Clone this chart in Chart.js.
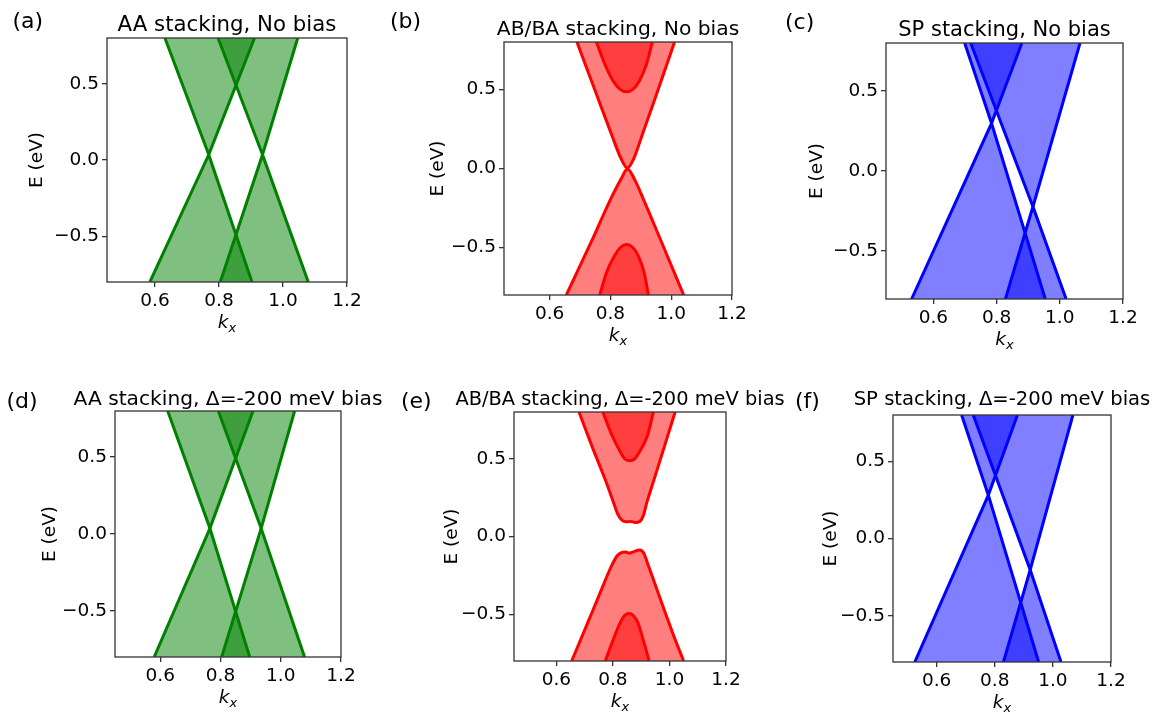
<!DOCTYPE html>
<html><head><meta charset="utf-8">
<script src="https://cdn.jsdelivr.net/npm/chart.js@4.4.0/dist/chart.umd.min.js"></script>
<style>
html,body{margin:0;padding:0;background:#fff;width:1155px;height:717px;overflow:hidden;position:relative}
canvas{position:absolute}
</style></head><body>
<script>
// ---------- tick labels / axis ranges ----------
const X_TICKS = [0.6, 0.8, 1.0, 1.2];
const Y_TICKS = [-0.5, 0.0, 0.5];
const X_RANGE = [0.45, 1.2];
const Y_RANGE = [-0.8, 0.8];
const PANEL_LETTERS = ['(a)', '(b)', '(c)', '(d)', '(e)', '(f)'];
const PANEL_TITLES = ['AA stacking, No bias', 'AB/BA stacking, No bias', 'SP stacking, No bias',
  'AA stacking, Δ=-200 meV bias', 'AB/BA stacking, Δ=-200 meV bias', 'SP stacking, Δ=-200 meV bias'];
const Y_LABEL = 'E (eV)';

// ---------- (a) AA, no bias : band edges [k_x, E] ----------
const aaNoBias_cone1Upper = [[0.631, 0.8], [0.768, 0.035], [0.911, 0.8]];
const aaNoBias_cone1Lower = [[0.584, -0.8], [0.768, 0.035], [0.903, -0.8]];
const aaNoBias_cone2Upper = [[0.797, 0.8], [0.936, 0.035], [1.046, 0.8]];
const aaNoBias_cone2Lower = [[0.804, -0.8], [0.936, 0.035], [1.079, -0.8]];

// ---------- (b) AB/BA, no bias ----------
const abNoBias_outerUpper = [[0.690, 0.8], [0.756, 0.460], [0.805, 0.209], [0.835, 0.063], [0.856, 0.003], [0.877, 0.063], [0.904, 0.209], [0.950, 0.460], [1.011, 0.8]];
const abNoBias_innerUpper = [[0.754, 0.8], [0.784, 0.649], [0.809, 0.554], [0.831, 0.502], [0.853, 0.485], [0.875, 0.502], [0.895, 0.554], [0.917, 0.649], [0.938, 0.8]];
const abNoBias_outerLower = [[0.655, -0.8], [0.738, -0.460], [0.797, -0.209], [0.835, -0.067], [0.856, -0.003], [0.879, -0.067], [0.912, -0.209], [0.967, -0.460], [1.041, -0.8]];
const abNoBias_innerLower = [[0.765, -0.8], [0.787, -0.659], [0.813, -0.554], [0.834, -0.498], [0.853, -0.481], [0.873, -0.498], [0.892, -0.554], [0.911, -0.659], [0.925, -0.8]];

// ---------- (c) SP, no bias ----------
const spNoBias_coneLUpper = [[0.699, 0.8], [0.784, 0.298], [0.880, 0.8]];
const spNoBias_coneLLower = [[0.531, -0.8], [0.784, 0.298], [0.954, -0.8]];
const spNoBias_coneRUpper = [[0.718, 0.8], [0.915, -0.223], [1.064, 0.8]];
const spNoBias_coneRLower = [[0.828, -0.8], [0.915, -0.223], [1.020, -0.8]];

// ---------- (d) AA, -200 meV bias ----------
const aaBias_cone1Upper = [[0.625, 0.8], [0.765, 0.037], [0.908, 0.8]];
const aaBias_cone1Lower = [[0.580, -0.8], [0.765, 0.037], [0.897, -0.8]];
const aaBias_cone2Upper = [[0.793, 0.8], [0.935, 0.037], [1.046, 0.8]];
const aaBias_cone2Lower = [[0.804, -0.8], [0.935, 0.037], [1.079, -0.8]];

// ---------- (e) AB/BA, -200 meV bias ----------
const abBias_outerUpper = [[0.680, 0.8], [0.725, 0.584], [0.772, 0.369], [0.802, 0.219], [0.817, 0.144], [0.833, 0.103], [0.847, 0.094], [0.863, 0.097], [0.878, 0.090], [0.895, 0.097], [0.908, 0.137], [0.920, 0.219], [0.946, 0.369], [0.983, 0.584], [1.020, 0.8]];
const abBias_innerUpper = [[0.764, 0.8], [0.797, 0.648], [0.827, 0.541], [0.842, 0.498], [0.859, 0.487], [0.876, 0.498], [0.893, 0.541], [0.922, 0.648], [0.943, 0.8]];
const abBias_outerLower = [[0.654, -0.8], [0.701, -0.597], [0.755, -0.361], [0.795, -0.189], [0.815, -0.124], [0.830, -0.103], [0.845, -0.099], [0.859, -0.107], [0.875, -0.097], [0.893, -0.086], [0.908, -0.103], [0.925, -0.185], [0.967, -0.399], [1.011, -0.618], [1.050, -0.8]];
const abBias_innerLower = [[0.773, -0.8], [0.797, -0.682], [0.827, -0.549], [0.842, -0.506], [0.857, -0.494], [0.871, -0.506], [0.887, -0.549], [0.910, -0.682], [0.928, -0.8]];

// ---------- (f) SP, -200 meV bias ----------
const spBias_coneLUpper = [[0.686, 0.8], [0.778, 0.281], [0.878, 0.8]];
const spBias_coneLLower = [[0.525, -0.8], [0.778, 0.281], [0.951, -0.8]];
const spBias_coneRUpper = [[0.726, 0.8], [0.922, -0.203], [1.069, 0.8]];
const spBias_coneRLower = [[0.830, -0.8], [0.922, -0.203], [1.028, -0.8]];

// ---------- styles ----------
const GREEN = {line: '#008000', fill: 'rgba(0,128,0,0.5)'};
const RED = {line: '#ff0000', fill: 'rgba(255,0,0,0.5)'};
const BLUE = {line: '#0000ff', fill: 'rgba(0,0,255,0.5)'};

const panels = [
  {box: {l: 107, t: 38, r: 347, b: 282}, col: GREEN, smooth: false, yOff: 70, letter: [12.5, 28], titleY: 31, titleSize: 21.3,
   curves: [[aaNoBias_cone1Upper, 'end'], [aaNoBias_cone1Lower, 'start'], [aaNoBias_cone2Upper, 'end'], [aaNoBias_cone2Lower, 'start']]},
  {box: {l: 504, t: 42, r: 732, b: 295}, col: RED, smooth: true, yOff: 66, letter: [390, 28], titleY: 34.5, titleSize: 20.3,
   curves: [[abNoBias_outerUpper, 'end'], [abNoBias_innerUpper, 'end'], [abNoBias_outerLower, 'start'], [abNoBias_innerLower, 'start']]},
  {box: {l: 886, t: 43, r: 1123, b: 299}, col: BLUE, smooth: false, yOff: 69, letter: [785, 29], titleY: 35.5, titleSize: 21,
   curves: [[spNoBias_coneLUpper, 'end'], [spNoBias_coneLLower, 'start'], [spNoBias_coneRUpper, 'end'], [spNoBias_coneRLower, 'start']]},
  {box: {l: 115, t: 411, r: 341, b: 657}, col: GREEN, smooth: false, yOff: 65, letter: [6.5, 408], titleY: 404.5, titleSize: 20.2,
   curves: [[aaBias_cone1Upper, 'end'], [aaBias_cone1Lower, 'start'], [aaBias_cone2Upper, 'end'], [aaBias_cone2Lower, 'start']]},
  {box: {l: 514, t: 412, r: 726, b: 661}, col: RED, smooth: true, yOff: 62, letter: [401, 408], titleY: 404.5, titleSize: 19.4,
   curves: [[abBias_outerUpper, 'end'], [abBias_innerUpper, 'end'], [abBias_outerLower, 'start'], [abBias_innerLower, 'start']]},
  {box: {l: 893, t: 415, r: 1111, b: 662}, col: BLUE, smooth: false, yOff: 62, letter: [795, 408], titleY: 405, titleSize: 19.6,
   curves: [[spBias_coneLUpper, 'end'], [spBias_coneLLower, 'start'], [spBias_coneRUpper, 'end'], [spBias_coneRLower, 'start']]}
];

const FONT = 'DejaVu Sans';
const PAD_L = 120, PAD_T = 45, PAD_R = 80, AX_H = 62;

panels.forEach((p, i) => {
  const L = p.box.l - PAD_L, T = p.box.t - PAD_T;
  const W = (p.box.r - p.box.l) + PAD_L + PAD_R;
  const H = (p.box.b - p.box.t) + PAD_T + AX_H;
  const cv = document.createElement('canvas');
  cv.width = W; cv.height = H;
  cv.style.left = L + 'px'; cv.style.top = T + 'px';
  cv.style.width = W + 'px'; cv.style.height = H + 'px';
  document.body.appendChild(cv);
  const yW = p.yOff + 11;

  const decor = {
    id: 'decor' + i,
    afterDraw(chart) {
      const ctx = chart.ctx, ca = chart.chartArea;
      ctx.save();
      ctx.strokeStyle = '#333';
      ctx.lineWidth = 1.3;
      ctx.strokeRect(ca.left, ca.top, ca.right - ca.left, ca.bottom - ca.top);
      ctx.fillStyle = '#000';
      ctx.textBaseline = 'alphabetic';
      ctx.textAlign = 'left';
      ctx.font = '22px "' + FONT + '"';
      ctx.fillText(PANEL_LETTERS[i], p.letter[0] - L, p.letter[1] - T);
      ctx.textAlign = 'center';
      ctx.font = p.titleSize + 'px "' + FONT + '"';
      ctx.fillText(PANEL_TITLES[i], (ca.left + ca.right) / 2, p.titleY - T);
      // x label k_x
      const cx = (ca.left + ca.right) / 2;
      ctx.font = 'italic 18.5px "' + FONT + '"';
      const kw = ctx.measureText('k').width;
      ctx.font = 'italic 13px "' + FONT + '"';
      const xw = ctx.measureText('x').width;
      const x0 = cx - (kw + xw) / 2;
      ctx.textAlign = 'left';
      ctx.font = 'italic 18.5px "' + FONT + '"';
      ctx.fillText('k', x0, ca.bottom + 46);
      ctx.font = 'italic 13px "' + FONT + '"';
      ctx.fillText('x', x0 + kw, ca.bottom + 50);
      ctx.restore();
    }
  };

  new Chart(cv, {
    type: 'line',
    data: {
      datasets: p.curves.map(([pts, fill]) => ({
        data: pts.map(([x, y]) => ({x, y})),
        borderColor: p.col.line,
        backgroundColor: p.col.fill,
        borderWidth: 3,
        pointRadius: 0,
        fill: fill,
        tension: 0,
        cubicInterpolationMode: p.smooth ? 'monotone' : 'default',
        clip: 0
      }))
    },
    options: {
      responsive: false,
      animation: false,
      devicePixelRatio: 1,
      layout: {padding: {left: PAD_L - yW, top: PAD_T, right: PAD_R, bottom: 0}},
      plugins: {legend: {display: false}, tooltip: {enabled: false}, filler: {drawTime: 'beforeDatasetsDraw'}},
      scales: {
        x: {
          type: 'linear', min: X_RANGE[0], max: X_RANGE[1],
          afterBuildTicks: s => { s.ticks = X_TICKS.map(v => ({value: v})); },
          afterFit: s => { s.height = AX_H; },
          ticks: {autoSkip: false, maxRotation: 0, padding: 3, color: '#000',
                  font: {family: FONT, size: 18.5}, callback: v => Number(v).toFixed(1)},
          grid: {drawOnChartArea: false, drawTicks: true, tickLength: 5, color: '#333', lineWidth: 1.3},
          border: {display: false}
        },
        y: {
          type: 'linear', min: Y_RANGE[0], max: Y_RANGE[1],
          afterBuildTicks: s => { s.ticks = Y_TICKS.map(v => ({value: v})); },
          afterFit: s => { s.width = yW; },
          ticks: {autoSkip: false, padding: 3, color: '#000', font: {family: FONT, size: 18.5},
                  callback: v => (v < 0 ? '\u2212' : '') + Math.abs(v).toFixed(1)},
          title: {display: true, text: Y_LABEL, color: '#000', font: {family: FONT, size: 18.5}, padding: 0},
          grid: {drawOnChartArea: false, drawTicks: true, tickLength: 5, color: '#333', lineWidth: 1.3},
          border: {display: false}
        }
      }
    },
    plugins: [decor]
  });
});
</script>
</body></html>
